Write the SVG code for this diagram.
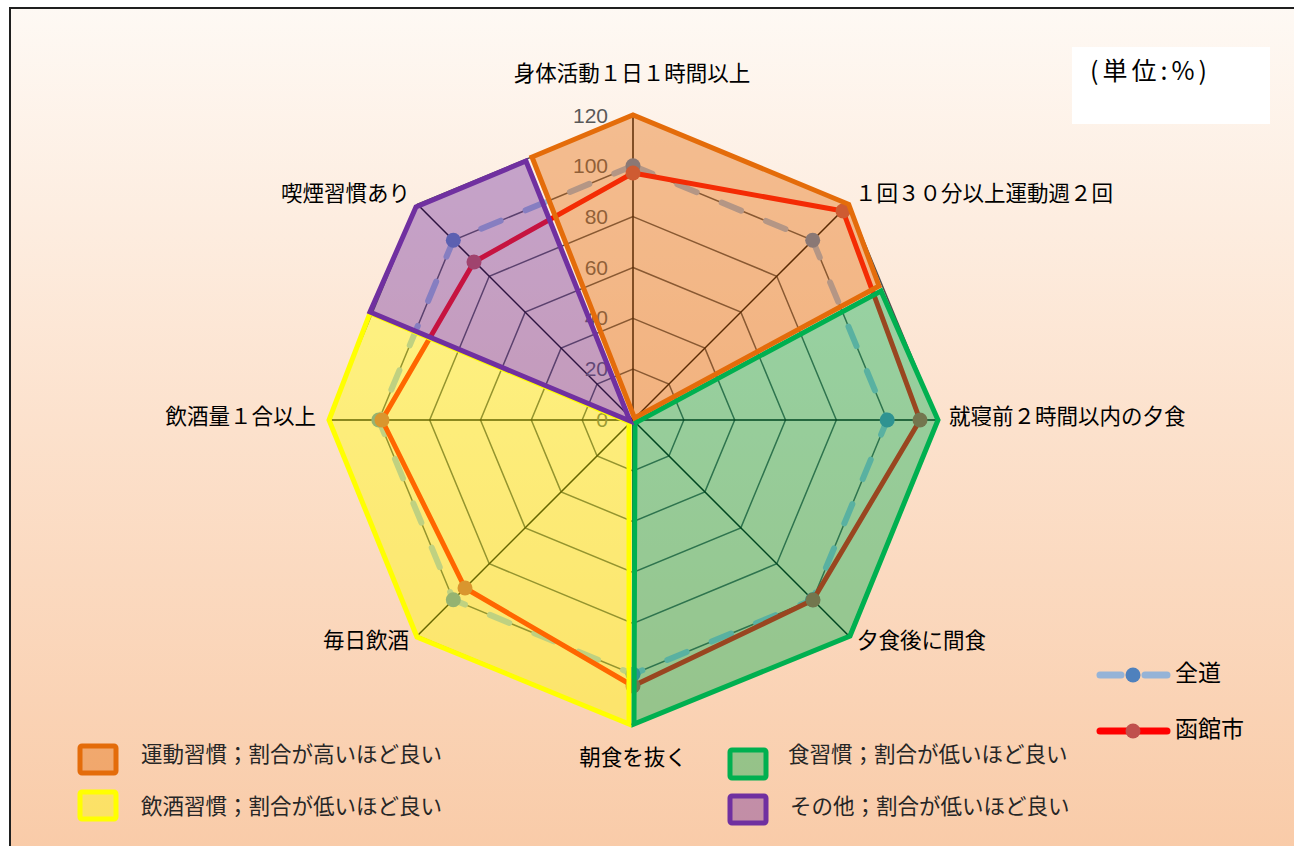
<svg xmlns="http://www.w3.org/2000/svg" width="1294" height="846" viewBox="0 0 1294 846">
<defs>
<linearGradient id="bg" x1="0" y1="0" x2="0" y2="1">
<stop offset="0" stop-color="#FEF9F4"/>
<stop offset="0.5" stop-color="#FCE1CC"/>
<stop offset="1" stop-color="#F9CBA8"/>
</linearGradient>
<style>
.cat { font-family: "Noto Sans CJK JP", "Noto Sans CJK SC", sans-serif; font-size: 21.5px; fill: #000; }
.num { font-family: "Liberation Sans", Arial, sans-serif; font-size: 21px; fill: #595959; text-anchor: end; }
.leg { font-family: "Noto Sans CJK JP", "Noto Sans CJK SC", sans-serif; font-size: 21.5px; fill: #262626; }
.ring { fill: none; stroke: #4D4D4D; stroke-width: 1.5; }
.spoke { stroke: #000; stroke-width: 1.5; }
.zendo { fill: none; stroke: #95B3D7; stroke-width: 6; stroke-dasharray: 21 27; stroke-linecap: round; stroke-linejoin: round; }
.hako { fill: none; stroke: #FF0000; stroke-width: 5; stroke-linejoin: round; }
.mz { fill: #4F81BD; }
.mh { fill: #C0504D; }
.area { stroke: none; fill-opacity: 0.4; }
.edge { fill: none; stroke-width: 5; stroke-linejoin: miter; stroke-miterlimit: 10; }
.o { fill: #E46C0A; stroke: #E46C0A; }
.g { fill: #00B050; stroke: #00B050; }
.y { fill: #FFFF00; stroke: #FFFF00; }
.p { fill: #7030A0; stroke: #7030A0; }
</style>
</defs>
<rect x="0" y="0" width="1294" height="846" fill="#FFFFFF"/>
<rect id="frame" x="10" y="8" width="1290" height="845" fill="url(#bg)" stroke="#1F1F1F" stroke-width="2"/>

<g id="unit-box">
<rect x="1072" y="47" width="198" height="77" fill="#FFFFFF"/>
<text x="1090" y="80" class="leg" style="font-size:25px;letter-spacing:4px;fill:#000">(単位:%)</text>
</g>

<g id="grid" transform="translate(633,420)">
<polygon class="ring" points="0,-50.83 35.94,-35.94 50.83,0 35.94,35.94 0,50.83 -35.94,35.94 -50.83,0 -35.94,-35.94"/>
<polygon class="ring" points="0,-101.67 71.89,-71.89 101.67,0 71.89,71.89 0,101.67 -71.89,71.89 -101.67,0 -71.89,-71.89"/>
<polygon class="ring" points="0,-152.5 107.83,-107.83 152.5,0 107.83,107.83 0,152.5 -107.83,107.83 -152.5,0 -107.83,-107.83"/>
<polygon class="ring" points="0,-203.33 143.78,-143.78 203.33,0 143.78,143.78 0,203.33 -143.78,143.78 -203.33,0 -143.78,-143.78"/>
<polygon class="ring" points="0,-254.17 179.72,-179.72 254.17,0 179.72,179.72 0,254.17 -179.72,179.72 -254.17,0 -179.72,-179.72"/>
<polygon class="ring" points="0,-305 215.67,-215.67 305,0 215.67,215.67 0,305 -215.67,215.67 -305,0 -215.67,-215.67"/>
<line class="spoke" x1="0" y1="0" x2="0" y2="-305"/>
<line class="spoke" x1="0" y1="0" x2="215.67" y2="-215.67"/>
<line class="spoke" x1="0" y1="0" x2="305" y2="0"/>
<line class="spoke" x1="0" y1="0" x2="215.67" y2="215.67"/>
<line class="spoke" x1="0" y1="0" x2="0" y2="305"/>
<line class="spoke" x1="0" y1="0" x2="-215.67" y2="215.67"/>
<line class="spoke" x1="0" y1="0" x2="-305" y2="0"/>
<line class="spoke" x1="0" y1="0" x2="-215.67" y2="-215.67"/>
</g>

<g id="axis-values">
<text class="num" x="608" y="427">0</text>
<text class="num" x="608" y="376">20</text>
<text class="num" x="608" y="325">40</text>
<text class="num" x="608" y="275">60</text>
<text class="num" x="608" y="224">80</text>
<text class="num" x="608" y="173">100</text>
<text class="num" x="608" y="123">120</text>
</g>

<g id="connectors">
<g id="series-zendo">
<polygon class="zendo" points="633,165.8 812.7,240.3 887.2,420 812.7,599.7 633,674.2 453.3,599.7 378.8,420 453.3,240.3"/>
<circle class="mz" cx="633" cy="165.8" r="7.5"/>
<circle class="mz" cx="812.7" cy="240.3" r="7.5"/>
<circle class="mz" cx="887.2" cy="420" r="7.5"/>
<circle class="mz" cx="812.7" cy="599.7" r="7.5"/>
<circle class="mz" cx="633" cy="674.2" r="7.5"/>
<circle class="mz" cx="453.3" cy="599.7" r="7.5"/>
<circle class="mz" cx="378.8" cy="420" r="7.5"/>
<circle class="mz" cx="453.3" cy="240.3" r="7.5"/>
</g>
<g id="series-hakodate">
<polygon class="hako" points="633,173 843,211 920,420 813,600 633,686 465,588 382,420 474,262"/>
<circle class="mh" cx="633" cy="173" r="7.5"/>
<circle class="mh" cx="843" cy="211" r="7.5"/>
<circle class="mh" cx="920" cy="420" r="7.5"/>
<circle class="mh" cx="813" cy="600" r="7.5"/>
<circle class="mh" cx="633" cy="686" r="7.5"/>
<circle class="mh" cx="465" cy="588" r="7.5"/>
<circle class="mh" cx="382" cy="420" r="7.5"/>
<circle class="mh" cx="474" cy="262" r="7.5"/>
</g>
</g>

<g id="areas">
<polygon class="area y" points="629,422 370,313 329,420 417,637 629,724"/>
<polygon class="area g" points="635,423 881,291 938,420 850,636 634,724"/>
<polygon class="area o" points="634.5,418 532,157 633,115 848.7,204.3 879,286"/>
<polygon class="area p" points="630,421 370,312 416,207 526,161"/>
</g>

<g id="area-edges">
<polygon class="edge y" style="fill:none" points="629,422 370,313 329,420 417,637 629,724"/>
<polygon class="edge g" style="fill:none" points="635,423 881,291 938,420 850,636 634,724"/>
<polygon class="edge o" style="fill:none" points="634.5,418 532,157 633,115 848.7,204.3 879,286"/>
<polygon class="edge p" style="fill:none" points="630,421 370,312 416,207 526,161"/>
</g>

<g id="category-labels">
<text class="cat" x="632" y="81" text-anchor="middle">身体活動１日１時間以上</text>
<text class="cat" x="855" y="201">１回３０分以上運動週２回</text>
<text class="cat" x="949" y="424">就寝前２時間以内の夕食</text>
<text class="cat" x="857" y="648">夕食後に間食</text>
<text class="cat" x="633" y="765" text-anchor="middle">朝食を抜く</text>
<text class="cat" x="409" y="648" text-anchor="end">毎日飲酒</text>
<text class="cat" x="316" y="424" text-anchor="end">飲酒量１合以上</text>
<text class="cat" x="410" y="201" text-anchor="end">喫煙習慣あり</text>
</g>

<g id="legend-series">
<g id="legend-zendo">
<line x1="1100" y1="675" x2="1121" y2="675" stroke="#95B3D7" stroke-width="7" stroke-linecap="round"/>
<line x1="1145" y1="675" x2="1167" y2="675" stroke="#95B3D7" stroke-width="7" stroke-linecap="round"/>
<circle cx="1133" cy="675" r="7.5" fill="#4F81BD"/>
<text class="leg" x="1175" y="681" style="font-size:23px;fill:#000">全道</text>
</g>
<g id="legend-hakodate">
<line x1="1100" y1="731" x2="1167" y2="731" stroke="#FF0000" stroke-width="7" stroke-linecap="round"/>
<circle cx="1133" cy="731" r="7.5" fill="#C0504D"/>
<text class="leg" x="1175" y="737" style="font-size:23px;fill:#000">函館市</text>
</g>
</g>

<g id="legend-categories">
<g id="legend-undo">
<rect x="80" y="746" width="36" height="27" rx="2" fill="#E46C0A" fill-opacity="0.4" stroke="#E46C0A" stroke-width="5"/>
<text class="leg" x="141" y="762">運動習慣；割合が高いほど良い</text>
</g>
<g id="legend-inshu">
<rect x="80" y="792" width="36" height="27" rx="2" fill="#FFFF00" fill-opacity="0.4" stroke="#FFFF00" stroke-width="5"/>
<text class="leg" x="141" y="814">飲酒習慣；割合が低いほど良い</text>
</g>
<g id="legend-shoku">
<rect x="730" y="750" width="36" height="28" rx="2" fill="#00B050" fill-opacity="0.4" stroke="#00B050" stroke-width="5"/>
<text class="leg" x="788" y="762">食習慣；割合が低いほど良い</text>
</g>
<g id="legend-sonota">
<rect x="730" y="796" width="36" height="27" rx="2" fill="#7030A0" fill-opacity="0.4" stroke="#7030A0" stroke-width="5"/>
<text class="leg" x="790" y="814">その他；割合が低いほど良い</text>
</g>
</g>
</svg>
